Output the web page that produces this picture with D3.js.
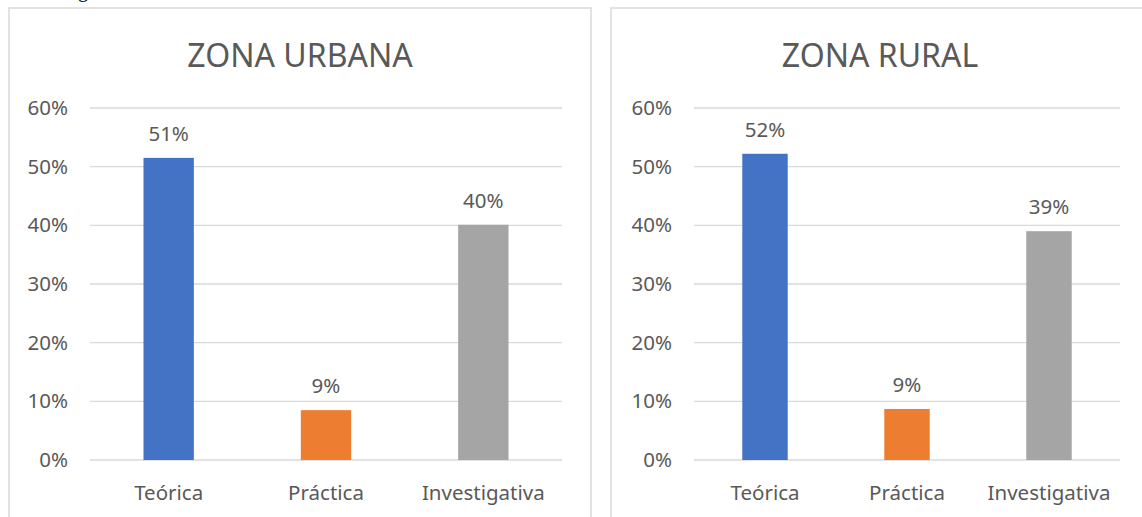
<!DOCTYPE html>
<html>
<head>
<meta charset="utf-8">
<script src="https://cdn.jsdelivr.net/npm/d3@7"></script>
<style>
  body { margin: 0; background: #fff; }
  svg text { font-family: "Noto Sans", "Open Sans", sans-serif; fill: #595959; }
</style>
</head>
<body>
<svg width="1142" height="517"></svg>
<script>
var categories = ['Teórica', 'Práctica', 'Investigativa'];
var colors = ['#4472c4', '#ed7d31', '#a5a5a5'];
var urbanValues = [0.515, 0.085, 0.401];
var urbanLabels = ['51%', '9%', '40%'];
var ruralValues = [0.522, 0.087, 0.39];
var ruralLabels = ['52%', '9%', '39%'];
var yTicks = [0, 0.1, 0.2, 0.3, 0.4, 0.5, 0.6];

var svg = d3.select('svg');

// cut off caption from the page above
svg.append('text')
  .attr('x', 78).attr('y', -3)
  .style('font-family', '"Liberation Serif", serif')
  .style('font-size', '20px')
  .style('fill', '#000')
  .text('g');

var drawChart = function(box, title, values, labels){
  var g = svg.append('g');

  g.append('rect')
    .attr('x', box.x).attr('y', box.y)
    .attr('width', box.w).attr('height', box.h)
    .style('fill', '#fff')
    .style('stroke', '#d9d9d9')
    .style('stroke-width', 1.5);

  g.append('text')
    .attr('x', box.titleX).attr('y', 67)
    .attr('text-anchor', 'middle')
    .style('font-size', '32px')
    .text(title);

  var x = d3.scaleBand().domain(categories)
    .range([box.left, box.right]).paddingInner(box.pad).paddingOuter(box.pad / 2);
  var y = d3.scaleLinear().domain([0, 0.6]).range([460, 108]);

  g.selectAll('line.grid').data(yTicks).enter()
    .append('line')
    .attr('x1', box.left).attr('x2', box.right)
    .attr('y1', function(d){ return y(d); })
    .attr('y2', function(d){ return y(d); })
    .style('stroke', '#d9d9d9')
    .style('stroke-width', 1.3);

  g.selectAll('text.ytick').data(yTicks).enter()
    .append('text')
    .attr('x', box.left - 22)
    .attr('y', function(d){ return y(d) + 7; })
    .attr('text-anchor', 'end')
    .style('font-size', '20.5px')
    .text(d3.format('.0%'));

  g.selectAll('rect.bar').data(values).enter()
    .append('rect')
    .attr('x', function(d, i){ return x(categories[i]); })
    .attr('width', x.bandwidth())
    .attr('y', function(d){ return y(d); })
    .attr('height', function(d){ return y(0) - y(d); })
    .style('fill', function(d, i){ return colors[i]; });

  g.selectAll('text.val').data(values).enter()
    .append('text')
    .attr('x', function(d, i){ return x(categories[i]) + x.bandwidth() / 2; })
    .attr('y', function(d){ return y(d) - 17; })
    .attr('text-anchor', 'middle')
    .style('font-size', '20.5px')
    .text(function(d, i){ return labels[i]; });

  g.selectAll('text.cat').data(categories).enter()
    .append('text')
    .attr('x', function(d){ return x(d) + x.bandwidth() / 2; })
    .attr('y', 500)
    .attr('text-anchor', 'middle')
    .style('font-size', '20.5px')
    .text(function(d){ return d; });
};

drawChart({x: 9, y: 8, w: 582, h: 530, left: 90, right: 562, pad: 0.68, titleX: 300},
  'ZONA URBANA', urbanValues, urbanLabels);
drawChart({x: 611, y: 8, w: 560, h: 530, left: 694, right: 1120, pad: 0.68, titleX: 880},
  'ZONA RURAL', ruralValues, ruralLabels);
</script>
</body>
</html>
